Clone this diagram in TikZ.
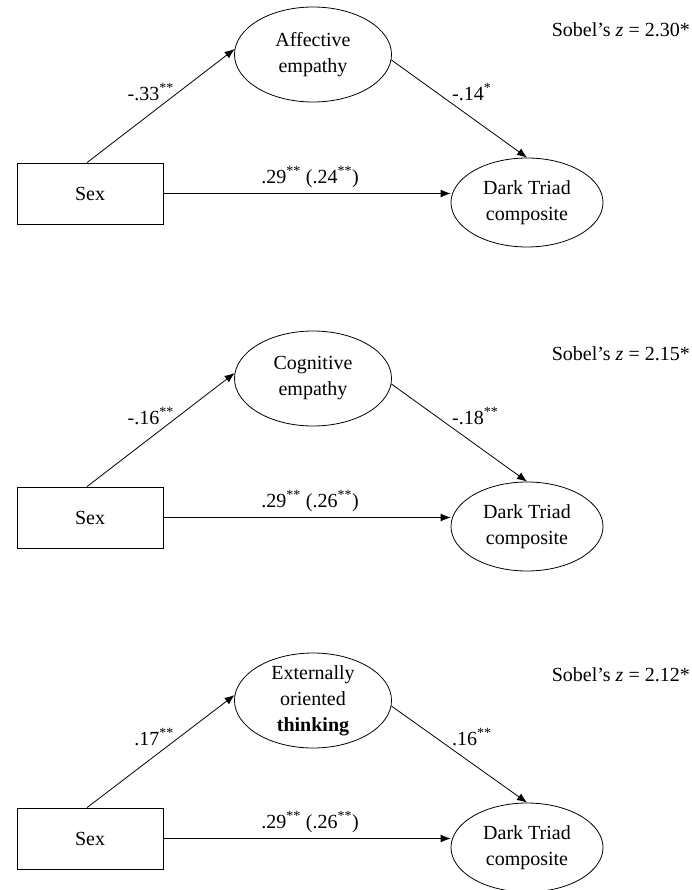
\documentclass[tikz,border=0pt]{standalone}
\usepackage{fontspec}
\setmainfont{Liberation Serif}
\usetikzlibrary{shapes.geometric,arrows.meta,calc}
\begin{document}
\begin{tikzpicture}[x=1pt,y=-1pt,
  every node/.style={font=\fontsize{20}{26}\selectfont},
  box/.style={draw, line width=0.8pt, minimum width=146pt, minimum height=61pt, inner sep=0pt},
  oval/.style={draw, ellipse, line width=0.8pt, inner sep=0pt},
  medoval/.style={oval, minimum width=157pt, minimum height=95pt},
  dtoval/.style={oval, minimum width=152pt, minimum height=89pt},
  lbl/.style={align=center, inner sep=0pt},
  conn/.style={line width=0.8pt, -{Latex[length=10pt,width=8pt]}},
  coef/.style={inner sep=0pt},
  sobel/.style={anchor=east, inner sep=0pt}
]
\useasboundingbox (0,0) rectangle (692,890);

% ---------- Panel 1 ----------
\begin{scope}
\node[box] (sex1) at (90,193.5) {Sex};
\node[medoval] (med1) at (313,54.5) {};
\node[lbl] (medt1) at (med1) {Affective\\empathy};
\node[dtoval] (dt1) at (527,202.5) {};
\node[lbl] (dtt1) at (dt1) {Dark Triad\\composite};
\draw[conn] ($(sex1.north)+(-3,0)$) -- (med1.176);
\draw[conn] (med1.-4) -- (dt1.north);
\draw[conn] (sex1.east) -- (sex1.east -| dt1.west);
\node[coef, anchor=east] (ca1) at (174,92) {-.33\textsuperscript{**}};
\node[coef, anchor=west] (cb1) at (452,92) {-.14\textsuperscript{*}};
\node[coef] (cc1) at (310,177) {.29\textsuperscript{**} (.24\textsuperscript{**})};
\node[sobel] (sob1) at (690,30) {Sobel’s \textit{z} = 2.30*};
\end{scope}

% ---------- Panel 2 ----------
\begin{scope}[yshift=-324pt]
\node[box] (sex2) at (90,193.5) {Sex};
\node[medoval] (med2) at (313,54.5) {};
\node[lbl] (medt2) at (med2) {Cognitive\\empathy};
\node[dtoval] (dt2) at (527,202.5) {};
\node[lbl] (dtt2) at (dt2) {Dark Triad\\composite};
\draw[conn] ($(sex2.north)+(-3,0)$) -- (med2.176);
\draw[conn] (med2.-4) -- (dt2.north);
\draw[conn] (sex2.east) -- (sex2.east -| dt2.west);
\node[coef, anchor=east] (ca2) at (174,92) {-.16\textsuperscript{**}};
\node[coef, anchor=west] (cb2) at (452,92) {-.18\textsuperscript{**}};
\node[coef] (cc2) at (310,177) {.29\textsuperscript{**} (.26\textsuperscript{**})};
\node[sobel] (sob2) at (690,30) {Sobel’s \textit{z} = 2.15*};
\end{scope}

% ---------- Panel 3 ----------
\begin{scope}[yshift=-645pt]
\node[box] (sex3) at (90,193.5) {Sex};
\node[medoval] (med3) at (313,55.5) {};
\node[lbl] (medt3) at (med3) {Externally\\oriented\\\textbf{thinking}};
\node[dtoval] (dt3) at (527,202.5) {};
\node[lbl] (dtt3) at (dt3) {Dark Triad\\composite};
\draw[conn] ($(sex3.north)+(-3,0)$) -- (med3.176);
\draw[conn] (med3.-4) -- (dt3.north);
\draw[conn] (sex3.east) -- (sex3.east -| dt3.west);
\node[coef, anchor=east] (ca3) at (174,92) {.17\textsuperscript{**}};
\node[coef, anchor=west] (cb3) at (452,92) {.16\textsuperscript{**}};
\node[coef] (cc3) at (310,177) {.29\textsuperscript{**} (.26\textsuperscript{**})};
\node[sobel] (sob3) at (690,30) {Sobel’s \textit{z} = 2.12*};
\end{scope}
\end{tikzpicture}
\end{document}
